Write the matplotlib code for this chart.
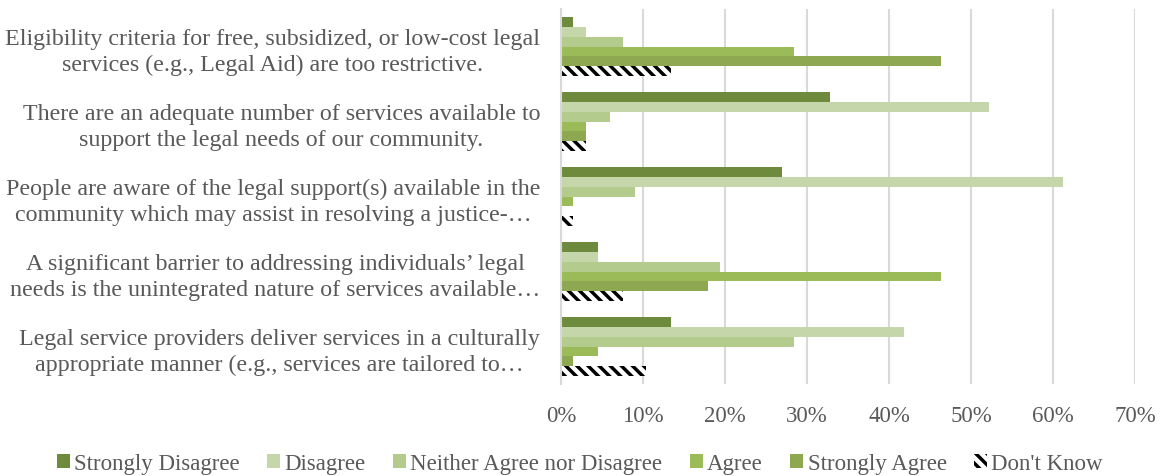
import numpy as np
import matplotlib.pyplot as plt

plt.rcParams['font.family'] = ['Liberation Serif', 'DejaVu Serif']
plt.rcParams['hatch.linewidth'] = 2.5

statements = [
    "Eligibility criteria for free, subsidized, or low-cost legal\nservices (e.g., Legal Aid) are too restrictive.",
    "There are an adequate number of services available to\nsupport the legal needs of our community.",
    "People are aware of the legal support(s) available in the\ncommunity which may assist in resolving a justice-\u2026",
    "A significant barrier to addressing individuals\u2019 legal\nneeds is the unintegrated nature of services available\u2026",
    "Legal service providers deliver services in a culturally\nappropriate manner (e.g., services are tailored to\u2026",
]

responses = ["Strongly Disagree", "Disagree", "Neither Agree nor Disagree",
             "Agree", "Strongly Agree", "Don't Know"]

# percent of respondents, one list per response, in statement order
strongly_disagree = [1.5, 32.8, 26.9, 4.5, 13.4]
disagree = [3.0, 52.2, 61.2, 4.5, 41.8]
neither = [7.5, 6.0, 9.0, 19.4, 28.4]
agree = [28.4, 3.0, 1.5, 46.3, 4.5]
strongly_agree = [46.3, 3.0, 0.0, 17.9, 1.5]
dont_know = [13.4, 3.0, 1.5, 7.5, 10.4]

series = [strongly_disagree, disagree, neither, agree, strongly_agree, dont_know]
colors = ['#6E8B3D', '#C5D6AA', '#B3CB8C', '#9BBB59', '#8EA852', 'white']
text_color = '#595959'

fig = plt.figure(figsize=(11.6, 4.77), dpi=100)
ax = fig.add_axes([561 / 1160, 1 - 385 / 477, (1135 - 561) / 1160, 375 / 477])

y = np.arange(len(statements))
h = 0.13
for i, (vals, name, col) in enumerate(zip(series, responses, colors)):
    pos = y + (i - 2.5) * h
    if name == "Don't Know":
        ax.barh(pos, vals, height=h, color='white', edgecolor='black',
                hatch='\\\\\\', linewidth=0, label=name)
    else:
        ax.barh(pos, vals, height=h, color=col, linewidth=0, label=name)

ax.set_ylim(len(statements) - 0.5, -0.5)
ax.set_xlim(0, 70)
ax.set_xticks(np.arange(0, 71, 10))
ax.set_xticklabels([f"{t}%" for t in range(0, 71, 10)], fontsize=16.5, color=text_color)
ax.set_yticks(y)
ax.set_yticklabels(statements, fontsize=17.3, color=text_color, linespacing=1.3,
                   multialignment='center')
ax.tick_params(axis='both', length=0)
ax.tick_params(axis='y', pad=15)
ax.tick_params(axis='x', pad=15)

ax.grid(axis='x', color='#D9D9D9', linewidth=1.5)
ax.set_axisbelow(True)
for s in ['top', 'right', 'bottom']:
    ax.spines[s].set_visible(False)
ax.spines['left'].set_color('#D9D9D9')
ax.spines['left'].set_linewidth(1.5)

fig.legend(loc='lower center', bbox_to_anchor=(0.5, -0.04), ncol=6, frameon=False,
           fontsize=16.5, handlelength=0.55, handleheight=0.55, handletextpad=0.2,
           columnspacing=1.2, labelcolor=text_color)

fig.savefig('out.png', dpi=100)
